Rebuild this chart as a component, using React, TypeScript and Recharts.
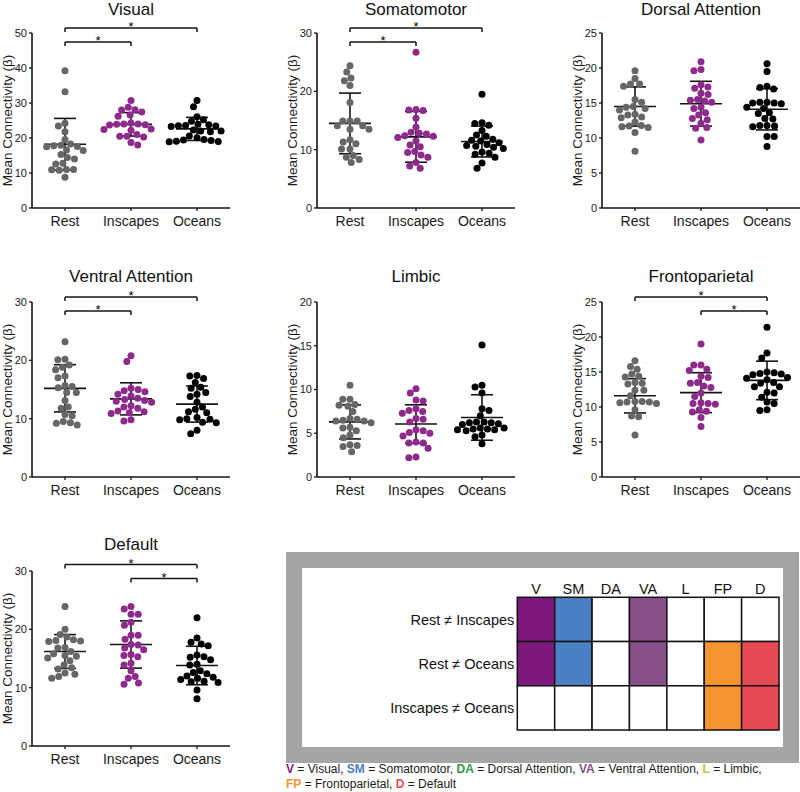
import React from 'react';
import { ScatterChart, Scatter, XAxis, YAxis, ReferenceLine, ReferenceDot } from 'recharts';

const FONT = '"Liberation Sans", Arial, Helvetica, sans-serif';

const CONDITIONS = ['Rest', 'Inscapes', 'Oceans'];
const GROUP_COLORS = ['#666666', '#8f2a8d', '#000000'];

// ---- Visual ----
const visualRest = [39.2, 33.2, 24.2, 23.4, 21.8, 19.6, 18.3, 17.9, 17.6, 17.8, 17.5, 16.4, 16.6, 15.3, 14.4, 14.0, 12.8, 12.6, 11.0, 11.0, 10.8, 10.9, 8.8];
const visualInscapes = [30.7, 28.8, 28.1, 28.0, 27.4, 26.6, 26.2, 24.3, 24.0, 24.0, 23.9, 23.8, 23.7, 22.6, 22.4, 22.2, 21.0, 20.5, 20.5, 20.3, 18.7, 18.0];
const visualOceans = [30.7, 28.9, 26.1, 25.2, 24.8, 23.9, 23.6, 23.4, 23.3, 23.5, 23.8, 22.3, 22.0, 21.8, 22.0, 20.6, 19.6, 19.3, 19.0, 18.9, 19.1, 19.4, 20.1];
const visualMeans = [18.2, 23.9, 22.6];
const visualSDs = [7.4, 3.35, 3.3];

// ---- Somatomotor ----
const somRest = [24.4, 23.3, 22.3, 21.8, 21.0, 18.1, 14.9, 14.9, 14.9, 14.1, 14.1, 13.5, 13.5, 11.3, 11.7, 11.0, 10.1, 10.1, 8.7, 9.0, 7.8, 8.3];
const somInscapes = [26.7, 16.9, 16.8, 16.7, 15.4, 13.9, 12.8, 12.7, 12.3, 12.1, 12.4, 10.8, 10.5, 9.7, 9.5, 9.1, 8.7, 7.8, 7.2, 6.8, 11.5, 13.0];
const somOceans = [19.5, 14.5, 14.6, 14.2, 13.3, 12.5, 12.3, 11.8, 11.6, 11.5, 11.2, 10.9, 10.7, 10.6, 10.4, 10.2, 9.6, 9.4, 9.2, 8.7, 7.7, 6.8];
const somMeans = [14.5, 12.2, 11.4];
const somSDs = [5.2, 4.35, 2.65];

// ---- Dorsal Attention ----
const daRest = [19.6, 18.5, 17.7, 17.7, 17.4, 15.5, 15.1, 14.5, 14.4, 14.2, 14.0, 13.4, 13.3, 13.0, 12.9, 12.3, 11.8, 11.6, 11.5, 11.7, 10.8, 8.1];
const daInscapes = [20.9, 19.8, 19.6, 17.6, 17.3, 17.1, 16.4, 16.2, 15.4, 15.3, 15.5, 15.1, 14.4, 14.2, 13.6, 13.3, 12.8, 12.6, 12.1, 11.5, 11.4, 9.7];
const daOceans = [20.6, 19.5, 17.4, 17.2, 17.0, 15.1, 15.1, 15.0, 15.0, 14.9, 14.4, 14.2, 13.6, 13.5, 12.8, 12.7, 11.8, 11.8, 11.7, 11.6, 10.2, 10.2, 8.8];
const daMeans = [14.5, 14.9, 14.1];
const daSDs = [2.8, 3.2, 2.95];

// ---- Ventral Attention ----
const vaRest = [23.2, 20.2, 20.1, 19.2, 18.8, 18.4, 17.3, 17.0, 15.7, 15.5, 15.3, 14.5, 14.5, 13.1, 12.0, 11.8, 10.7, 10.5, 9.5, 9.3, 9.2, 8.9];
const vaInscapes = [20.8, 19.8, 15.2, 15.0, 14.8, 14.6, 14.2, 13.9, 13.5, 13.3, 13.1, 13.0, 12.8, 12.2, 12.0, 11.8, 11.3, 11.2, 11.0, 10.9, 9.8, 9.6];
const vaOceans = [17.4, 17.3, 16.9, 16.2, 15.4, 15.2, 14.5, 14.2, 13.8, 12.8, 12.0, 11.6, 11.2, 11.0, 10.2, 10.0, 9.9, 9.8, 9.4, 9.3, 8.0, 7.4];
const vaMeans = [15.2, 13.4, 12.5];
const vaSDs = [4.05, 2.75, 3.1];

// ---- Limbic ----
const limRest = [10.5, 8.9, 8.9, 8.3, 8.2, 8.1, 7.5, 6.7, 6.6, 6.5, 6.4, 6.4, 6.2, 5.7, 5.6, 5.3, 4.8, 4.5, 3.7, 3.6, 3.5, 2.9];
const limInscapes = [10.1, 9.6, 8.8, 8.7, 7.8, 7.6, 7.5, 7.3, 6.7, 6.6, 6.3, 5.4, 5.3, 5.1, 5.0, 4.7, 4.0, 3.9, 3.9, 3.3, 2.3, 2.2];
const limOceans = [15.1, 10.5, 10.3, 9.6, 7.8, 7.6, 7.0, 6.3, 6.3, 6.2, 6.2, 6.1, 6.0, 5.6, 5.6, 5.5, 5.5, 5.4, 5.4, 5.3, 4.8, 4.6, 3.8];
const limMeans = [6.3, 6.05, 6.8];
const limSDs = [1.95, 2.2, 2.6];

// ---- Frontoparietal ----
const fpRest = [16.6, 15.8, 15.4, 14.7, 14.4, 14.3, 13.5, 13.4, 13.3, 12.4, 12.4, 11.6, 10.8, 10.8, 10.7, 10.7, 10.6, 10.5, 9.6, 8.7, 8.6, 6.0];
const fpInscapes = [19.0, 16.0, 16.0, 15.4, 15.2, 14.4, 14.2, 13.5, 13.4, 13.0, 12.8, 12.0, 11.5, 10.6, 10.5, 10.5, 10.4, 9.6, 9.4, 9.3, 8.5, 7.2];
const fpOceans = [21.4, 17.7, 17.0, 15.0, 14.9, 14.8, 14.7, 14.6, 14.2, 14.1, 13.9, 13.5, 13.4, 12.9, 12.9, 12.1, 12.0, 11.4, 10.7, 10.5, 9.6, 9.5];
const fpMeans = [11.6, 12.05, 13.8];
const fpSDs = [2.45, 2.85, 2.75];

// ---- Default ----
const dmnRest = [23.9, 20.0, 19.1, 18.7, 18.2, 18.1, 18.0, 17.9, 16.9, 16.8, 16.2, 15.8, 15.5, 15.4, 15.1, 14.6, 13.9, 13.4, 13.2, 12.5, 12.3, 11.9, 11.6];
const dmnInscapes = [23.9, 23.5, 22.6, 22.6, 21.2, 20.7, 19.0, 19.0, 18.3, 17.4, 17.3, 16.8, 16.5, 15.7, 15.5, 15.3, 14.2, 13.9, 12.9, 11.9, 11.6, 10.8, 10.6];
const dmnOceans = [22.0, 18.5, 17.8, 17.5, 17.2, 15.6, 15.3, 15.2, 14.8, 14.0, 13.9, 12.9, 12.6, 12.4, 12.0, 11.8, 11.6, 11.4, 11.1, 11.0, 10.9, 9.6, 8.1];
const dmnMeans = [16.2, 17.4, 13.8];
const dmnSDs = [2.9, 4.05, 3.3];

// significance brackets: [from condition, to condition], outer first
const BRACKETS_REST = [[0, 2], [0, 1]];
const BRACKETS_OCEANS = [[0, 2], [1, 2]];

// ---- Summary table ----
const NETWORK_ABBR = ['V', 'SM', 'DA', 'VA', 'L', 'FP', 'D'];
const NETWORK_NAMES = ['Visual', 'Somatomotor', 'Dorsal Attention', 'Ventral Attention', 'Limbic', 'Frontoparietal', 'Default'];
const NETWORK_COLORS = ['#7e177e', '#4b80c2', '#2f9a4a', '#88508a', '#c3c83a', '#f6952f', '#e84a53'];
const COMPARISONS = ['Rest \u2260 Inscapes', 'Rest \u2260 Oceans', 'Inscapes \u2260 Oceans'];
const SIG_REST_INSCAPES = [1, 1, 0, 1, 0, 0, 0];
const SIG_REST_OCEANS = [1, 1, 0, 1, 0, 1, 1];
const SIG_INSCAPES_OCEANS = [0, 0, 0, 0, 0, 1, 1];

// ---- Layout ----
const PLOT_W = 198;
const PLOT_H = 175;
const YAXIS_W = 45;
const MARGIN_TOP = 33;
const PX_PER_X = PLOT_W / 3;
const DOT_R = 3.5;
const DOT_SPACING = 7.2;

type PanelCfg = {
  title: string;
  max: number;
  ticks: number[];
  groups: number[][];
  means: number[];
  sds: number[];
  brackets: number[][];
  bracketPx: number[];
  axisX: number;
  plotTop: number;
  titleTop: number;
};

const PANELS: PanelCfg[] = [
  { title: 'Visual', max: 50, ticks: [0, 10, 20, 30, 40, 50], groups: [visualRest, visualInscapes, visualOceans], means: visualMeans, sds: visualSDs, brackets: BRACKETS_REST, bracketPx: [-5, 9], axisX: 32, plotTop: 33, titleTop: 31.4 },
  { title: 'Somatomotor', max: 30, ticks: [0, 10, 20, 30], groups: [somRest, somInscapes, somOceans], means: somMeans, sds: somSDs, brackets: BRACKETS_REST, bracketPx: [-5, 9], axisX: 317, plotTop: 33, titleTop: 31.4 },
  { title: 'Dorsal Attention', max: 25, ticks: [0, 5, 10, 15, 20, 25], groups: [daRest, daInscapes, daOceans], means: daMeans, sds: daSDs, brackets: [], bracketPx: [-5, 9], axisX: 602, plotTop: 33, titleTop: 31.4 },
  { title: 'Ventral Attention', max: 30, ticks: [0, 10, 20, 30], groups: [vaRest, vaInscapes, vaOceans], means: vaMeans, sds: vaSDs, brackets: BRACKETS_REST, bracketPx: [-5, 9], axisX: 32, plotTop: 302, titleTop: 33 },
  { title: 'Limbic', max: 20, ticks: [0, 5, 10, 15, 20], groups: [limRest, limInscapes, limOceans], means: limMeans, sds: limSDs, brackets: [], bracketPx: [-5, 9], axisX: 317, plotTop: 302, titleTop: 33 },
  { title: 'Frontoparietal', max: 25, ticks: [0, 5, 10, 15, 20, 25], groups: [fpRest, fpInscapes, fpOceans], means: fpMeans, sds: fpSDs, brackets: BRACKETS_OCEANS, bracketPx: [-5, 9], axisX: 602, plotTop: 302, titleTop: 33 },
  { title: 'Default', max: 30, ticks: [0, 10, 20, 30], groups: [dmnRest, dmnInscapes, dmnOceans], means: dmnMeans, sds: dmnSDs, brackets: BRACKETS_OCEANS, bracketPx: [-6.5, 7.5], axisX: 32, plotTop: 571, titleTop: 34 },
];

// deterministic beeswarm layout (horizontal offsets so dots do not overlap)
function swarmOffsets(values: number[], max: number): number[] {
  const pxPerY = PLOT_H / max;
  const D = DOT_SPACING;
  const order = values.map((_, i) => i).sort((a, b) => values[b] - values[a]);
  const placed: { x: number; y: number }[] = [];
  const res: number[] = new Array(values.length).fill(0);
  let flip = 1;
  for (const i of order) {
    const y = values[i] * pxPerY;
    const blocks: [number, number][] = [];
    for (const p of placed) {
      const dy = Math.abs(p.y - y);
      if (dy < D) {
        const w = Math.sqrt(D * D - dy * dy);
        blocks.push([p.x - w, p.x + w]);
      }
    }
    const cands: number[] = [0];
    for (const [a, b] of blocks) cands.push(a, b);
    cands.sort((a, b) => Math.abs(a) - Math.abs(b) || (a - b) * flip);
    let chosen = 0;
    for (const c of cands) {
      if (blocks.every(([a, b]) => c <= a + 1e-6 || c >= b - 1e-6)) {
        chosen = c;
        break;
      }
    }
    if (chosen !== 0) flip = -flip;
    placed.push({ x: chosen, y });
    res[i] = chosen / PX_PER_X;
  }
  return res;
}

const LINE = '#141414';

function Panel({ cfg }: { cfg: PanelCfg }) {
  const { title, max, ticks, groups, means, sds, brackets, bracketPx, axisX, plotTop, titleTop } = cfg;
  const pxPerY = PLOT_H / max;
  const fromTop = (px: number) => max - px / pxPerY;
  const tickLen = 4 / pxPerY;
  const meanHalf = 21 / PX_PER_X;
  const capHalf = 11 / PX_PER_X;
  const series = groups.map((vals, g) => {
    const offs = swarmOffsets(vals, max);
    return vals.map((v, i) => ({ x: g + 0.5 + offs[i], y: v }));
  });

  return (
    <>
      <div
        style={{
          position: 'absolute',
          left: axisX,
          top: plotTop - titleTop,
          width: PLOT_W,
          textAlign: 'center',
          fontSize: 17,
          lineHeight: '16px',
          color: '#111',
          whiteSpace: 'nowrap',
        }}
      >
        {title}
      </div>
      <div style={{ position: 'absolute', left: axisX - YAXIS_W, top: plotTop - MARGIN_TOP }}>
        <ScatterChart
          width={YAXIS_W + PLOT_W}
          height={MARGIN_TOP + PLOT_H + 32}
          margin={{ top: MARGIN_TOP, right: 0, bottom: 2, left: 0 }}
        >
          <XAxis
            type="number"
            dataKey="x"
            domain={[0, 3]}
            ticks={[0.5, 1.5, 2.5]}
            interval={0}
            tickFormatter={(v: number) => CONDITIONS[Math.round(v - 0.5)]}
            height={30}
            tickSize={3}
            tickMargin={5}
            axisLine={{ stroke: LINE, strokeWidth: 1.6 }}
            tickLine={{ stroke: LINE, strokeWidth: 1.3 }}
            tick={{ fontSize: 14, fill: '#1a1a1a', fontFamily: FONT }}
          />
          <YAxis
            type="number"
            dataKey="y"
            domain={[0, max]}
            ticks={ticks}
            interval={0}
            width={YAXIS_W}
            tickSize={3}
            tickMargin={2}
            axisLine={{ stroke: LINE, strokeWidth: 1.6 }}
            tickLine={{ stroke: LINE, strokeWidth: 1.3 }}
            tick={{ fontSize: 11, fill: '#1a1a1a', fontFamily: FONT }}
            label={{
              value: 'Mean Connectivity (\u03B2)',
              angle: -90,
              position: 'insideLeft',
              offset: YAXIS_W - 25,
              style: { textAnchor: 'middle', fontSize: 13.5, fill: '#1a1a1a', fontFamily: FONT },
            }}
          />
          {series.map((data, g) => (
            <Scatter
              key={'s' + g}
              data={data}
              isAnimationActive={false}
              shape={(p: any) => <circle cx={p.cx} cy={p.cy} r={DOT_R} fill={GROUP_COLORS[g]} />}
            />
          ))}
          {means.map((m, g) => {
            const c = g + 0.5;
            const s = sds[g];
            return (
              <React.Fragment key={'e' + g}>
                <ReferenceLine segment={[{ x: c - meanHalf, y: m }, { x: c + meanHalf, y: m }]} stroke={LINE} strokeWidth={1.6} />
                <ReferenceLine segment={[{ x: c, y: m - s }, { x: c, y: m + s }]} stroke={LINE} strokeWidth={1.6} />
                <ReferenceLine segment={[{ x: c - capHalf, y: m + s }, { x: c + capHalf, y: m + s }]} stroke={LINE} strokeWidth={1.6} />
                <ReferenceLine segment={[{ x: c - capHalf, y: m - s }, { x: c + capHalf, y: m - s }]} stroke={LINE} strokeWidth={1.6} />
              </React.Fragment>
            );
          })}
          {brackets.map(([a, b], k) => {
            const y = fromTop(bracketPx[k]);
            const x1 = a + 0.5;
            const x2 = b + 0.5;
            return (
              <React.Fragment key={'b' + k}>
                <ReferenceLine ifOverflow="visible" segment={[{ x: x1, y }, { x: x2, y }]} stroke={LINE} strokeWidth={1.5} />
                <ReferenceLine ifOverflow="visible" segment={[{ x: x1, y }, { x: x1, y: y - tickLen }]} stroke={LINE} strokeWidth={1.5} />
                <ReferenceLine ifOverflow="visible" segment={[{ x: x2, y }, { x: x2, y: y - tickLen }]} stroke={LINE} strokeWidth={1.5} />
                <ReferenceDot
                  ifOverflow="visible"
                  x={(x1 + x2) / 2}
                  y={y}
                  r={0}
                  shape={(p: any) => (
                    <text x={p.cx} y={p.cy + 3} textAnchor="middle" fontSize={13} style={{ fill: '#000' }} fontFamily={FONT}>
                      *
                    </text>
                  )}
                />
              </React.Fragment>
            );
          })}
        </ScatterChart>
      </div>
    </>
  );
}

// table geometry
const TABLE_CHART_LEFT = 300;
const TABLE_CHART_TOP = 560;
const TABLE_YAXIS_W = 217.3;
const TABLE_W = 261.7;
const TABLE_H = 132.7;
const CELL_W = TABLE_W / 7;
const CELL_H = TABLE_H / 3;

function SummaryTable() {
  const rows = [SIG_REST_INSCAPES, SIG_REST_OCEANS, SIG_INSCAPES_OCEANS];
  const cells: { x: number; y: number; color: string }[] = [];
  rows.forEach((row, r) =>
    row.forEach((sig, c) => {
      cells.push({ x: c + 0.5, y: r + 0.5, color: sig ? NETWORK_COLORS[c] : '#ffffff' });
    })
  );
  return (
    <>
      <div
        style={{
          position: 'absolute',
          left: 286,
          top: 552,
          width: 513,
          height: 211,
          boxSizing: 'border-box',
          border: '16px solid #a5a5a5',
          background: '#fff',
        }}
      />
      <div style={{ position: 'absolute', left: TABLE_CHART_LEFT, top: TABLE_CHART_TOP }}>
        <ScatterChart width={490} height={190} margin={{ top: 7.3, right: 11, bottom: 20, left: 0 }}>
          <XAxis
            type="number"
            dataKey="x"
            orientation="top"
            domain={[0, 7]}
            ticks={[0.5, 1.5, 2.5, 3.5, 4.5, 5.5, 6.5]}
            interval={0}
            tickFormatter={(v: number) => NETWORK_ABBR[Math.round(v - 0.5)]}
            axisLine={false}
            tickLine={false}
            tickSize={0}
            tickMargin={3}
            height={30}
            tick={{ fontSize: 14.5, fill: '#111', fontFamily: FONT }}
          />
          <YAxis
            type="number"
            dataKey="y"
            domain={[0, 3]}
            reversed
            ticks={[0.5, 1.5, 2.5]}
            interval={0}
            tickFormatter={(v: number) => COMPARISONS[Math.round(v - 0.5)]}
            axisLine={false}
            tickLine={false}
            tickSize={0}
            tickMargin={3}
            width={TABLE_YAXIS_W}
            tick={{ fontSize: 14.5, fill: '#111', fontFamily: FONT }}
          />
          <Scatter
            data={cells}
            isAnimationActive={false}
            shape={(p: any) => (
              <rect
                x={p.cx - CELL_W / 2}
                y={p.cy - CELL_H / 2}
                width={CELL_W}
                height={CELL_H}
                fill={p.payload.color}
                stroke="#111"
                strokeWidth={1.5}
              />
            )}
          />
        </ScatterChart>
      </div>
      <div
        style={{
          position: 'absolute',
          left: 286,
          top: 762,
          fontSize: 12,
          lineHeight: '15px',
          color: '#1a1a1a',
          whiteSpace: 'nowrap',
        }}
      >
        {NETWORK_ABBR.map((abbr, i) => (
          <React.Fragment key={abbr}>
            <b style={{ color: NETWORK_COLORS[i] }}>{abbr}</b>
            {' = ' + NETWORK_NAMES[i] + (i < NETWORK_ABBR.length - 1 ? ', ' : '')}
            {i === 4 ? <br /> : null}
          </React.Fragment>
        ))}
      </div>
    </>
  );
}

export default function App() {
  return (
    <div
      style={{
        position: 'absolute',
        left: 0,
        top: 0,
        width: 800,
        height: 792,
        overflow: 'hidden',
        background: '#fff',
        fontFamily: FONT,
      }}
    >
      {PANELS.map((cfg) => (
        <Panel key={cfg.title} cfg={cfg} />
      ))}
      <SummaryTable />
    </div>
  );
}
